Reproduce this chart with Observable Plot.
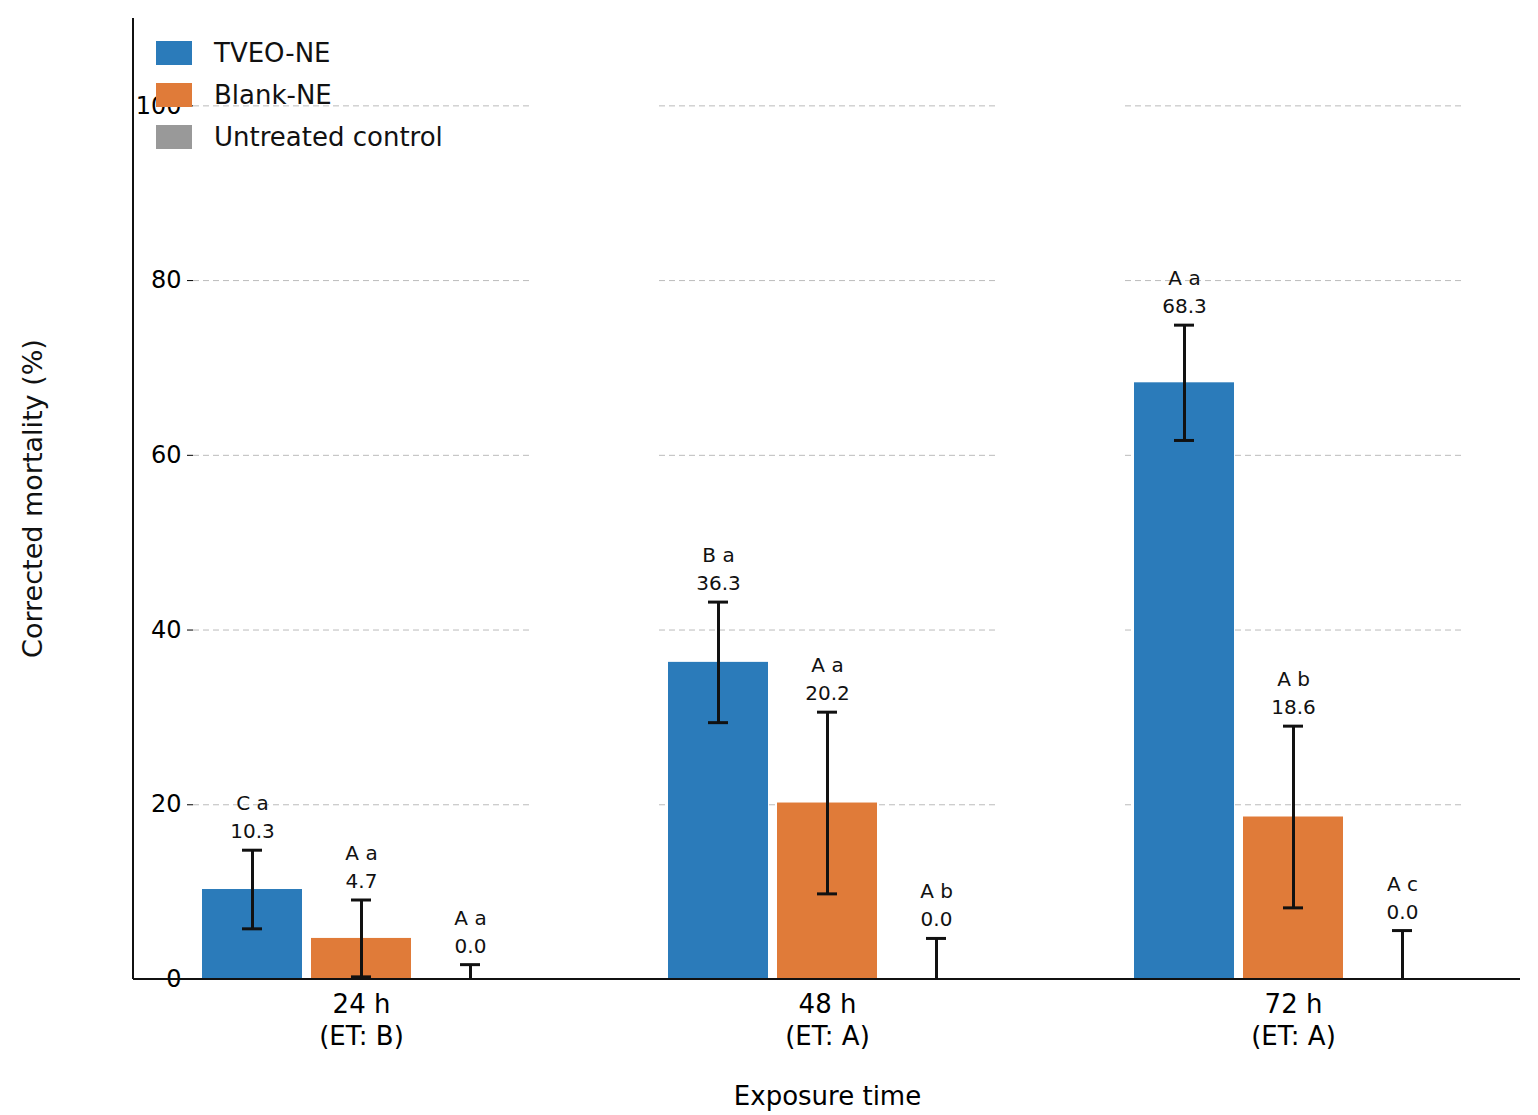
<!DOCTYPE html>
<html><head><meta charset="utf-8">
<script src="https://cdn.jsdelivr.net/npm/d3@7"></script>
<script src="https://cdn.jsdelivr.net/npm/@observablehq/plot@0.6"></script>
<style>body{margin:0;background:#fff;font-family:"DejaVu Sans",sans-serif}#wrap{position:relative;width:1538px;height:1115px}
.leg{position:absolute;left:156px;font-size:26px;display:flex;align-items:center;color:#111}.sw{width:36px;height:24px;margin-right:22px}</style>
</head><body><div id="wrap"></div>
<script>
const groups = ["24 h\n(ET: B)", "48 h\n(ET: A)", "72 h\n(ET: A)"];
const series = ["TVEO-NE", "Blank-NE", "Untreated control"];
const colors = ["#2b7bba", "#e07b39", "#999999"];
const means = [[10.3, 4.7, 0.0], [36.3, 20.2, 0.0], [68.3, 18.6, 0.0]];
const errs = [[4.5, 4.4, 1.7], [6.9, 10.4, 4.7], [6.6, 10.4, 5.6]];
const letters = [["C a", "A a", "A a"], ["B a", "A a", "A b"], ["A a", "A b", "A c"]];

const data = [];
groups.forEach((g, i) => series.forEach((s, j) => data.push({
  g, s, v: means[i][j], lo: Math.max(0, means[i][j] - errs[i][j]), hi: means[i][j] + errs[i][j],
  lab: letters[i][j] + "\n" + means[i][j].toFixed(1)
})));

const chart = Plot.plot({
  width: 1538, height: 1115,
  marginLeft: 133, marginRight: 18, marginTop: 18, marginBottom: 136,
  style: {fontFamily: "DejaVu Sans, sans-serif", background: "#fff"},
  fx: {domain: groups, paddingInner: 0.28, paddingOuter: 0.127, label: null},
  x: {domain: series, padding: 0.08, axis: null},
  y: {domain: [0, 110], label: null},
  color: {domain: series, range: colors},
  marks: [
    Plot.gridY([20, 40, 60, 80, 100], {stroke: "#bbb", strokeOpacity: 1, strokeDasharray: "6,4"}),
    Plot.axisY({ticks: [0, 20, 40, 60, 80, 100], fontSize: 24, tickSize: 6, tickPadding: 6, label: null}),
    Plot.axisFx({anchor: "bottom", tickSize: 0, fontSize: 26, tickPadding: 10, lineHeight: 1.25,
      label: "Exposure time", labelAnchor: "center", labelArrow: "none", labelOffset: 125}),
    Plot.barY(data, {fx: "g", x: "s", y: "v", fill: "s"}),
    Plot.ruleX(data, {fx: "g", x: "s", y1: "lo", y2: "hi", stroke: "#111", strokeWidth: 3}),
    Plot.tickY(data, {fx: "g", x: "s", y: "hi", stroke: "#111", strokeWidth: 3, insetLeft: 40, insetRight: 40}),
    Plot.tickY(data.filter(d => d.lo > 0), {fx: "g", x: "s", y: "lo", stroke: "#111", strokeWidth: 3, insetLeft: 40, insetRight: 40}),
    Plot.text(data, {fx: "g", x: "s", y: "hi", text: "lab", lineAnchor: "bottom", dy: -12, fontSize: 20, lineHeight: 1.4, fill: "#111"})
  ]
});
const y = chart.scale("y");
const svg = d3.select(chart);
svg.append("line").attr("x1", 133).attr("x2", 1520).attr("y1", y.apply(0)).attr("y2", y.apply(0)).attr("stroke", "#111").attr("stroke-width", 2);
svg.append("line").attr("x1", 133).attr("x2", 133).attr("y1", y.apply(0)).attr("y2", y.apply(110)).attr("stroke", "#111").attr("stroke-width", 2);
svg.append("text").attr("transform", `translate(42,${(y.apply(0)+y.apply(110))/2}) rotate(-90)`).attr("text-anchor", "middle")
  .attr("font-size", 27).attr("fill", "#111").text("Corrected mortality (%)");
const wrap = document.getElementById("wrap");
wrap.appendChild(chart);
series.forEach((s, j) => {
  const d = document.createElement("div");
  d.className = "leg"; d.style.top = (38 + j * 42) + "px";
  d.innerHTML = `<span class="sw" style="background:${colors[j]}"></span>${s}`;
  wrap.appendChild(d);
});
</script></body></html>
